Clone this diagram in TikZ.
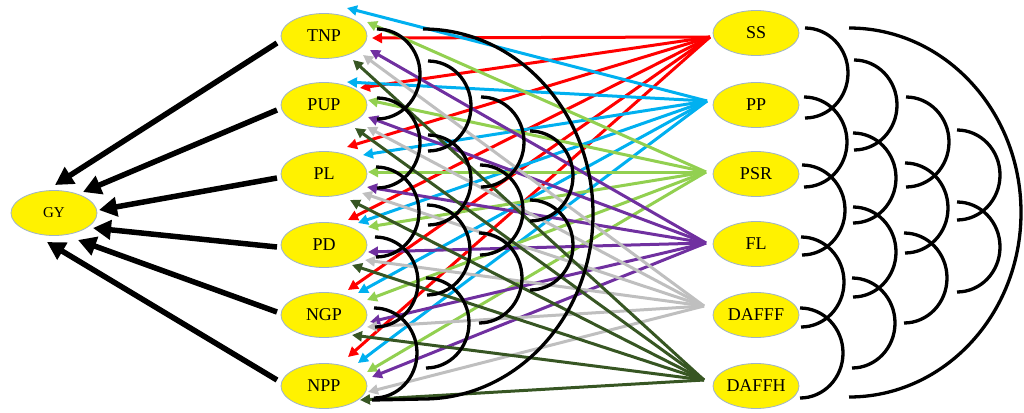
\documentclass[tikz,border=0pt]{standalone}
\usepackage{fontspec}
\setmainfont{Liberation Serif}
\usetikzlibrary{shapes.geometric,arrows.meta,calc}
\definecolor{cred}{HTML}{FF0000}
\definecolor{cblue}{HTML}{00B0F0}
\definecolor{cgreen}{HTML}{92D050}
\definecolor{cpurple}{HTML}{7030A0}
\definecolor{cgray}{HTML}{BFBFBF}
\definecolor{cdkgreen}{HTML}{375623}
\definecolor{nodeborder}{HTML}{9FB3C8}
\tikzset{
  var/.style={ellipse, draw=nodeborder, line width=0.8pt, fill=yellow, minimum width=86pt, minimum height=45pt, inner sep=0pt, font=\fontsize{18}{18}\selectfont},
  pathar/.style={line width=3pt, -{Triangle[length=10pt,width=10pt]}},
  gyarr/.style={line width=5.5pt, -{Triangle[length=18pt,width=19pt]}},
  corr/.style={line width=3.3pt, black},
}
\newcommand{\carc}[2]{\draw[corr] (#1,#2) arc[start angle=90,end angle=-90,x radius=43pt,y radius=45pt];}
\begin{document}
\begin{tikzpicture}[x=1pt,y=-1pt]
\useasboundingbox (0,0) rectangle (1024,412);
% nodes
\node[var, font=\fontsize{15}{15}\selectfont] (GY) at (54,213) {GY};
\node[var] (TNP) at (324,36) {TNP};
\node[var] (PUP) at (324,105) {PUP};
\node[var] (PL) at (324,174) {PL};
\node[var] (PD) at (324,245) {PD};
\node[var] (NGP) at (324,315) {NGP};
\node[var] (NPP) at (324,386) {NPP};
\node[var] (SS) at (756,33) {SS};
\node[var] (PP) at (756,105) {PP};
\node[var] (PSR) at (756,174) {PSR};
\node[var] (FL) at (756,244) {FL};
\node[var] (DAFFF) at (756,315) {DAFFF};
\node[var] (DAFFH) at (756,386) {DAFFH};
% source points
\coordinate (SSo) at ($(SS)+(-46,4)$);
\coordinate (PPo) at ($(PP)+(-49,-4)$);
\coordinate (PSRo) at ($(PSR)+(-50,-2)$);
\coordinate (FLo) at ($(FL)+(-50,-1)$);
\coordinate (DAFFFo) at ($(DAFFF)+(-52,-9)$);
\coordinate (DAFFHo) at ($(DAFFH)+(-52,-6)$);
% colored path arrows
% SS (red)
\draw[pathar,cred] (SSo) -- ($(TNP)+(48,2)$);
\draw[pathar,cred] (SSo) -- ($(PUP)+(36,-17)$);
\draw[pathar,cred] (SSo) -- ($(PL)+(23,-27)$);
\draw[pathar,cred] (SSo) -- ($(PD)+(24,-25)$);
\draw[pathar,cred] (SSo) -- ($(NGP)+(24,-25)$);
\draw[pathar,cred] (SSo) -- ($(NPP)+(24,-29)$);
% PP (blue)
\draw[pathar,cblue] (PPo) -- ($(TNP)+(23,-28)$);
\draw[pathar,cblue] (PPo) -- ($(PUP)+(23,-23)$);
\draw[pathar,cblue] (PPo) -- ($(PL)+(39,-19)$);
\draw[pathar,cblue] (PPo) -- ($(PD)+(34,-22)$);
\draw[pathar,cblue] (PPo) -- ($(NGP)+(34,-22)$);
\draw[pathar,cblue] (PPo) -- ($(NPP)+(34,-23)$);
% PSR (green)
\draw[pathar,cgreen] (PSRo) -- ($(TNP)+(43,-14)$);
\draw[pathar,cgreen] (PSRo) -- ($(PUP)+(44,-5)$);
\draw[pathar,cgreen] (PSRo) -- ($(PL)+(44,-2)$);
\draw[pathar,cgreen] (PSRo) -- ($(PD)+(44,-18)$);
\draw[pathar,cgreen] (PSRo) -- ($(NGP)+(43,-15)$);
\draw[pathar,cgreen] (PSRo) -- ($(NPP)+(43,-14)$);
% FL (purple)
\draw[pathar,cpurple] (FLo) -- ($(TNP)+(46,14)$);
\draw[pathar,cpurple] (FLo) -- ($(PUP)+(44,12)$);
\draw[pathar,cpurple] (FLo) -- ($(PL)+(43,13)$);
\draw[pathar,cpurple] (FLo) -- ($(PD)+(44,7)$);
\draw[pathar,cpurple] (FLo) -- ($(NGP)+(46,7)$);
\draw[pathar,cpurple] (FLo) -- ($(NPP)+(48,-9)$);
% DAFFF (gray)
\draw[pathar,cgray] (DAFFFo) -- ($(TNP)+(39,19)$);
\draw[pathar,cgray] (DAFFFo) -- ($(PUP)+(43,22)$);
\draw[pathar,cgray] (DAFFFo) -- ($(PL)+(38,19)$);
\draw[pathar,cgray] (DAFFFo) -- ($(PD)+(41,15)$);
\draw[pathar,cgray] (DAFFFo) -- ($(NGP)+(43,12)$);
\draw[pathar,cgray] (DAFFFo) -- ($(NPP)+(44,6)$);
% DAFFH (dark green)
\draw[pathar,cdkgreen] (DAFFHo) -- ($(TNP)+(29,24)$);
\draw[pathar,cdkgreen] (DAFFHo) -- ($(PUP)+(31,23)$);
\draw[pathar,cdkgreen] (DAFFHo) -- ($(PL)+(26,26)$);
\draw[pathar,cdkgreen] (DAFFHo) -- ($(PD)+(28,20)$);
\draw[pathar,cdkgreen] (DAFFHo) -- ($(NGP)+(28,20)$);
\draw[pathar,cdkgreen] (DAFFHo) -- ($(NPP)+(36,14)$);
% arrows to GY
\draw[gyarr] ($(TNP)+(-47,7)$) -- ($(GY)+(1,-28)$);
\draw[gyarr] ($(PUP)+(-47,5)$) -- ($(GY)+(29,-21)$);
\draw[gyarr] ($(PL)+(-47,4)$) -- ($(GY)+(45,-3)$);
\draw[gyarr] ($(PD)+(-47,2)$) -- ($(GY)+(39,15)$);
\draw[gyarr] ($(NGP)+(-47,-3)$) -- ($(GY)+(24,27)$);
\draw[gyarr] ($(NPP)+(-47,-6)$) -- ($(GY)+(-7,29)$);
% left correlation arcs
\carc{377}{29}\carc{377}{98}\carc{376}{167}\carc{375}{237}\carc{374}{308}
\carc{428}{61}\carc{428}{135}\carc{427}{205}\carc{426}{278}
\carc{481}{97}\carc{480}{165}\carc{479}{233}
\carc{530}{131}\carc{530}{200}
\draw[corr] (423,29) arc[start angle=90,end angle=-90,x radius=170pt,y radius=185pt] -- (372,400);
% right correlation arcs
\carc{805}{28}\carc{804}{97}\carc{802}{165}\carc{801}{237}\carc{800}{308}
\carc{854}{60}\carc{853}{133}\carc{853}{207}\carc{852}{278}
\carc{906}{97}\carc{905}{163}\carc{904}{233}
\carc{957}{130}\carc{957}{202}
\draw[corr] (849,28) arc[start angle=90,end angle=-90,x radius=172pt,y radius=184.5pt];
\end{tikzpicture}
\end{document}
